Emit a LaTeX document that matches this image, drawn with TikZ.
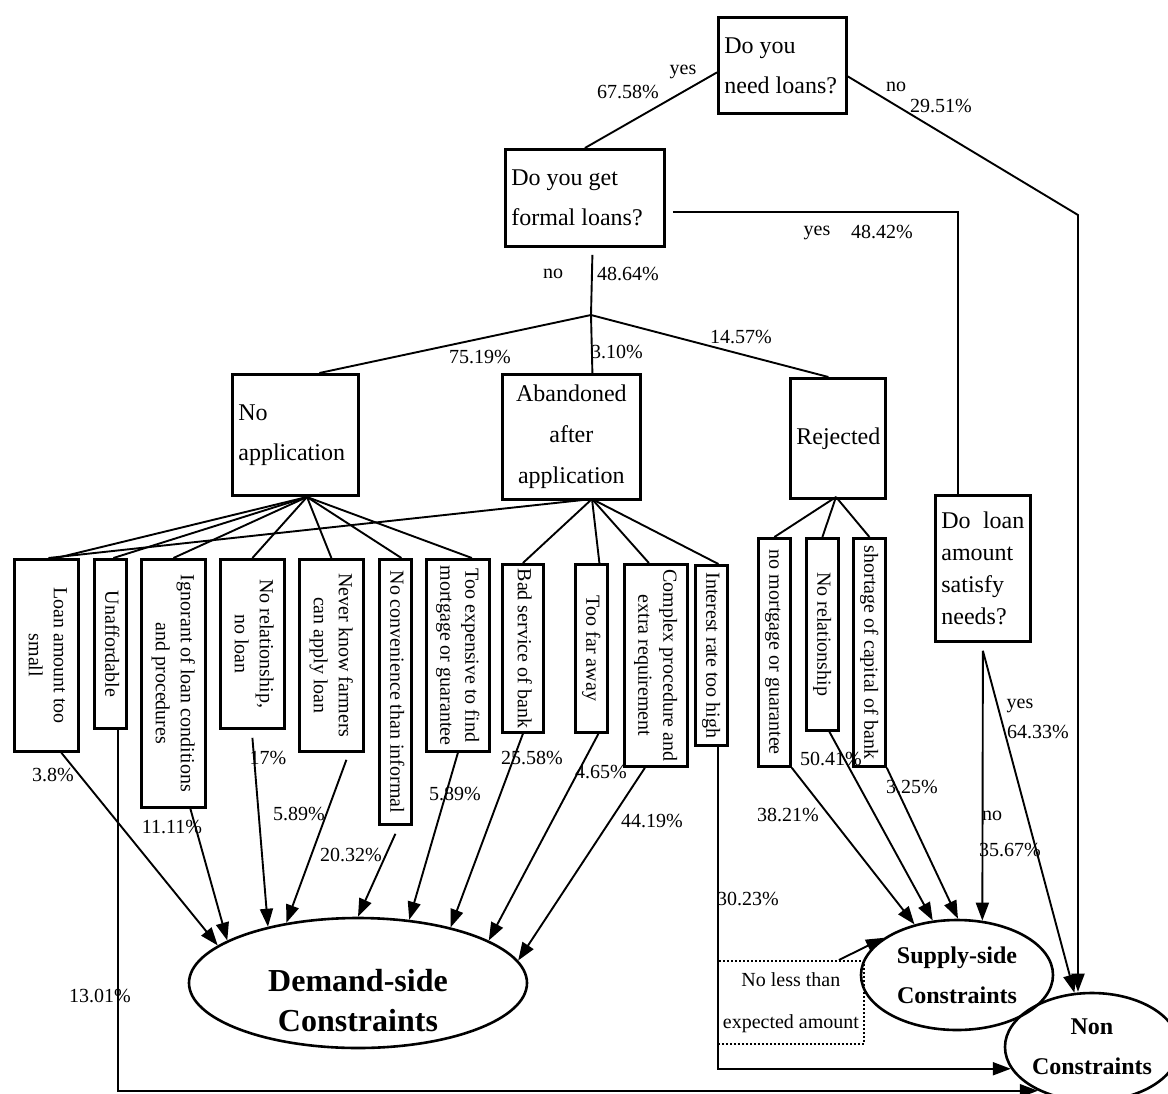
\documentclass[tikz,border=0pt]{standalone}
\usepackage{fontspec}
\setmainfont{Liberation Serif}
\usetikzlibrary{arrows.meta,shapes.geometric}
\newcommand{\vtxt}[1]{\rotatebox{-90}{\begin{tabular}{@{}c@{}}#1\end{tabular}}}

\begin{document}
\begin{tikzpicture}[x=1pt, y=-1pt,
    qbox/.style={rectangle, draw, line width=2.8pt, inner sep=6pt, align=flush left,
                 font=\fontsize{24}{40}\selectfont},
    rbox/.style={rectangle, draw, line width=2.8pt, inner sep=0pt,
                 font=\fontsize{20}{25}\selectfont},
    ell/.style={ellipse, draw, line width=2.6pt, inner sep=0pt, align=center,
                font=\bfseries\fontsize{24}{40}\selectfont},
    lnk/.style={line width=1.9pt},
    arr/.style={-{Triangle[length=18pt,width=13pt]}, line width=1.9pt},
    lbl/.style={font=\fontsize{20}{24}\selectfont, inner sep=0pt},
  ]
  \useasboundingbox (0,0) rectangle (1168,1093);

  % questions
  \node[qbox, anchor=north west, text width=116pt, minimum height=96pt] (need) at (717,16) {Do you\\need loans?};
  \node[qbox, anchor=north west, text width=147pt, minimum height=97pt] (formal) at (504,148) {Do you get\\formal loans?};
  \node[qbox, anchor=north west, text width=83pt, minimum height=146pt,
        font=\fontsize{24}{32}\selectfont] (doloan) at (934,494) {Do\hfill loan\\amount\\satisfy\\needs?};

  % outcomes
  \node[qbox, anchor=north west, text width=114pt, minimum height=121pt] (noapp) at (231,373) {No\\application};
  \node[qbox, anchor=north west, text width=126pt, minimum height=125pt, align=center,
        font=\fontsize{24}{41}\selectfont] (aband) at (501,373) {Abandoned\\after\\application};
  \node[qbox, anchor=north west, text width=83pt, minimum height=120pt, align=center] (rej) at (789,377) {Rejected};

  \coordinate (hub) at (591,315);
  \coordinate (nahub) at (307,497);
  \coordinate (abhub) at (592,499);
  \coordinate (rjhub) at (836,497);
  \coordinate (nobend) at (1078,215);

  % reasons
  \node[rbox, anchor=north west, minimum width=64pt, minimum height=192pt] (loan) at (13,558) {\vtxt{Loan amount too\\small}};
  \node[rbox, anchor=north west, minimum width=32pt, minimum height=169pt] (unaf) at (93,558) {\vtxt{Unaffordable}};
  \node[rbox, anchor=north west, minimum width=64pt, minimum height=248pt] (ignor) at (140,558) {\vtxt{Ignorant of loan conditions\\and procedures}};
  \node[rbox, anchor=north west, minimum width=64pt, minimum height=169pt] (norel) at (219,558) {\vtxt{No relationship,\\no loan}};
  \node[rbox, anchor=north west, minimum width=64pt, minimum height=192pt] (never) at (298,558) {\vtxt{Never know farmers\\can apply loan}};
  \node[rbox, anchor=north west, minimum width=32pt, minimum height=265pt] (noconv) at (378,558) {\vtxt{No convenience than informal}};
  \node[rbox, anchor=north west, minimum width=63pt, minimum height=192pt] (tooexp) at (425,558) {\vtxt{Too expensive to find\\mortgage or guarantee}};
  \node[rbox, anchor=north west, minimum width=41pt, minimum height=168pt] (badserv) at (501,563) {\vtxt{Bad service of bank}};
  \node[rbox, anchor=north west, minimum width=32pt, minimum height=168pt] (toofar) at (574,563) {\vtxt{Too far away}};
  \node[rbox, anchor=north west, minimum width=63pt, minimum height=202pt] (complex) at (623,563) {\vtxt{Complex procedure and\\extra requirement}};
  \node[rbox, anchor=north west, minimum width=32pt, minimum height=180pt] (interest) at (694,564) {\vtxt{Interest rate too high}};
  \node[rbox, anchor=north west, minimum width=32pt, minimum height=228pt] (nomort) at (757,537) {\vtxt{no mortgage or guarantee}};
  \node[rbox, anchor=north west, minimum width=32pt, minimum height=192pt] (rel) at (805,537) {\vtxt{No relationship}};
  \node[rbox, anchor=north west, minimum width=32pt, minimum height=228pt] (short) at (852,537) {\vtxt{shortage of capital of bank}};

  % constraints
  \node[ell, minimum width=338pt, minimum height=130pt] (demand) at (358,983) {};
  \node[align=center, inner sep=0pt, font=\bfseries\fontsize{32}{40}\selectfont] (demandtxt) at (358,1001) {Demand-side\\Constraints};
  \node[ell, minimum width=192pt, minimum height=110pt] (supply) at (957,975) {Supply-side\\Constraints};
  \node[ell, minimum width=174pt, minimum height=108pt] (non) at (1092,1047) {Non\\Constraints};
  \node[draw, dash pattern=on 1.6pt off 2.4pt, line width=1.8pt, anchor=north west,
        minimum width=146pt, minimum height=83pt, align=center,
        font=\fontsize{20}{42}\selectfont] (expct) at (717,960) {No less than\\expected amount};

  % tree
  \draw[lnk] ([yshift=-7pt]need.west) -- (formal.north);
  \draw[arr] ([yshift=-11pt]need.east) -- (nobend) -- (nobend |- non.north);
  \draw[lnk] ([xshift=7pt,yshift=-14pt]formal.east) -| ([xshift=-24.5pt]doloan.north);
  \draw[lnk] ([xshift=7.5pt,yshift=-7pt]formal.south) -- (hub);
  \draw[lnk] (hub) -- ([xshift=24pt]noapp.north);
  \draw[lnk] (hub) -- ([xshift=21pt]aband.north);
  \draw[lnk] (hub) -- ([xshift=-9.5pt]rej.north);

  \draw[lnk] (nahub) -- ([xshift=10pt]loan.north);
  \draw[lnk] (nahub) -- ([xshift=3pt]unaf.north);
  \draw[lnk] (nahub) -- (ignor.north);
  \draw[lnk] (nahub) -- (norel.north);
  \draw[lnk] (nahub) -- (never.north);
  \draw[lnk] (nahub) -- ([xshift=6pt]noconv.north);
  \draw[lnk] (nahub) -- ([xshift=14pt]tooexp.north);

  \draw[lnk] (abhub) -- ([xshift=2pt]loan.north);
  \draw[lnk] (abhub) -- (badserv.north);
  \draw[lnk] (abhub) -- ([xshift=8pt]toofar.north);
  \draw[lnk] (abhub) -- ([xshift=-7pt]complex.north);
  \draw[lnk] (abhub) -- ([xshift=7pt]interest.north);

  \draw[lnk] (rjhub) -- (nomort.north);
  \draw[lnk] (rjhub) -- (rel.north);
  \draw[lnk] (rjhub) -- (short.north);

  % into demand-side
  \draw[arr] ([xshift=15pt]loan.south) -- (demand.165);
  \draw[arr] ([xshift=17pt]ignor.south) -- (demand.162);
  \draw[arr] ([yshift=-8pt]norel.south) -- (demand.148);
  \draw[arr] ([xshift=15pt,yshift=-7pt]never.south) -- (demand.140);
  \draw[arr] ([yshift=-8pt]noconv.south) -- (demand.90);
  \draw[arr] (tooexp.south) -- (demand.51);
  \draw[arr] (badserv.south) -- (demand.31);
  \draw[arr] ([xshift=7pt]toofar.south) -- (demand.18);
  \draw[arr] ([xshift=-11pt]complex.south) -- (demand.8);

  % into supply-side and non
  \draw[arr] (nomort.south east) -- (supply.130);
  \draw[arr] ([xshift=7pt]rel.south) -- (supply.114);
  \draw[arr] (short.south east) -- (supply.89);
  \draw[arr] ([yshift=-8pt]doloan.south) -- (supply.65);
  \draw[arr] ([yshift=-8pt]doloan.south) -- (non.108);
  \draw[arr] ([xshift=48pt]expct.north) -- (supply.153);
  \draw[arr] ([xshift=7pt]interest.south) |- (non.195);
  \draw[arr] ([xshift=8pt]unaf.south) |- (non.219);

  % shares
  \node[lbl] (yes1) at (683,72) {yes};
  \node[lbl] (p6758) at (628,92) {67.58\%};
  \node[lbl] (no1) at (896,87) {no};
  \node[lbl] (p2951) at (941,106) {29.51\%};
  \node[lbl] (yes2) at (817,233) {yes};
  \node[lbl] (p4842) at (882,232) {48.42\%};
  \node[lbl] (no2) at (553,274) {no};
  \node[lbl] (p4864) at (628,274) {48.64\%};
  \node[lbl] (p7519) at (480,357) {75.19\%};
  \node[lbl] (p310) at (617,352) {3.10\%};
  \node[lbl] (p1457) at (741,337) {14.57\%};
  \node[lbl] (p38) at (53,775) {3.8\%};
  \node[lbl] (p1111) at (172,827) {11.11\%};
  \node[lbl] (p17) at (268,758) {17\%};
  \node[lbl] (p589a) at (299,814) {5.89\%};
  \node[lbl] (p2032) at (351,855) {20.32\%};
  \node[lbl] (p589b) at (455,794) {5.89\%};
  \node[lbl] (p2558) at (532,758) {25.58\%};
  \node[lbl] (p465) at (601,772) {4.65\%};
  \node[lbl] (p4419) at (652,821) {44.19\%};
  \node[lbl] (p3023) at (748,899) {30.23\%};
  \node[lbl] (p1301) at (100,996) {13.01\%};
  \node[lbl] (p3821) at (788,815) {38.21\%};
  \node[lbl] (p5041) at (831,759) {50.41\%};
  \node[lbl] (p325) at (912,787) {3.25\%};
  \node[lbl] (no3) at (992,816) {no};
  \node[lbl] (p3567) at (1010,850) {35.67\%};
  \node[lbl] (yes3) at (1020,706) {yes};
  \node[lbl] (p6433) at (1038,732) {64.33\%};

\end{tikzpicture}
\end{document}
